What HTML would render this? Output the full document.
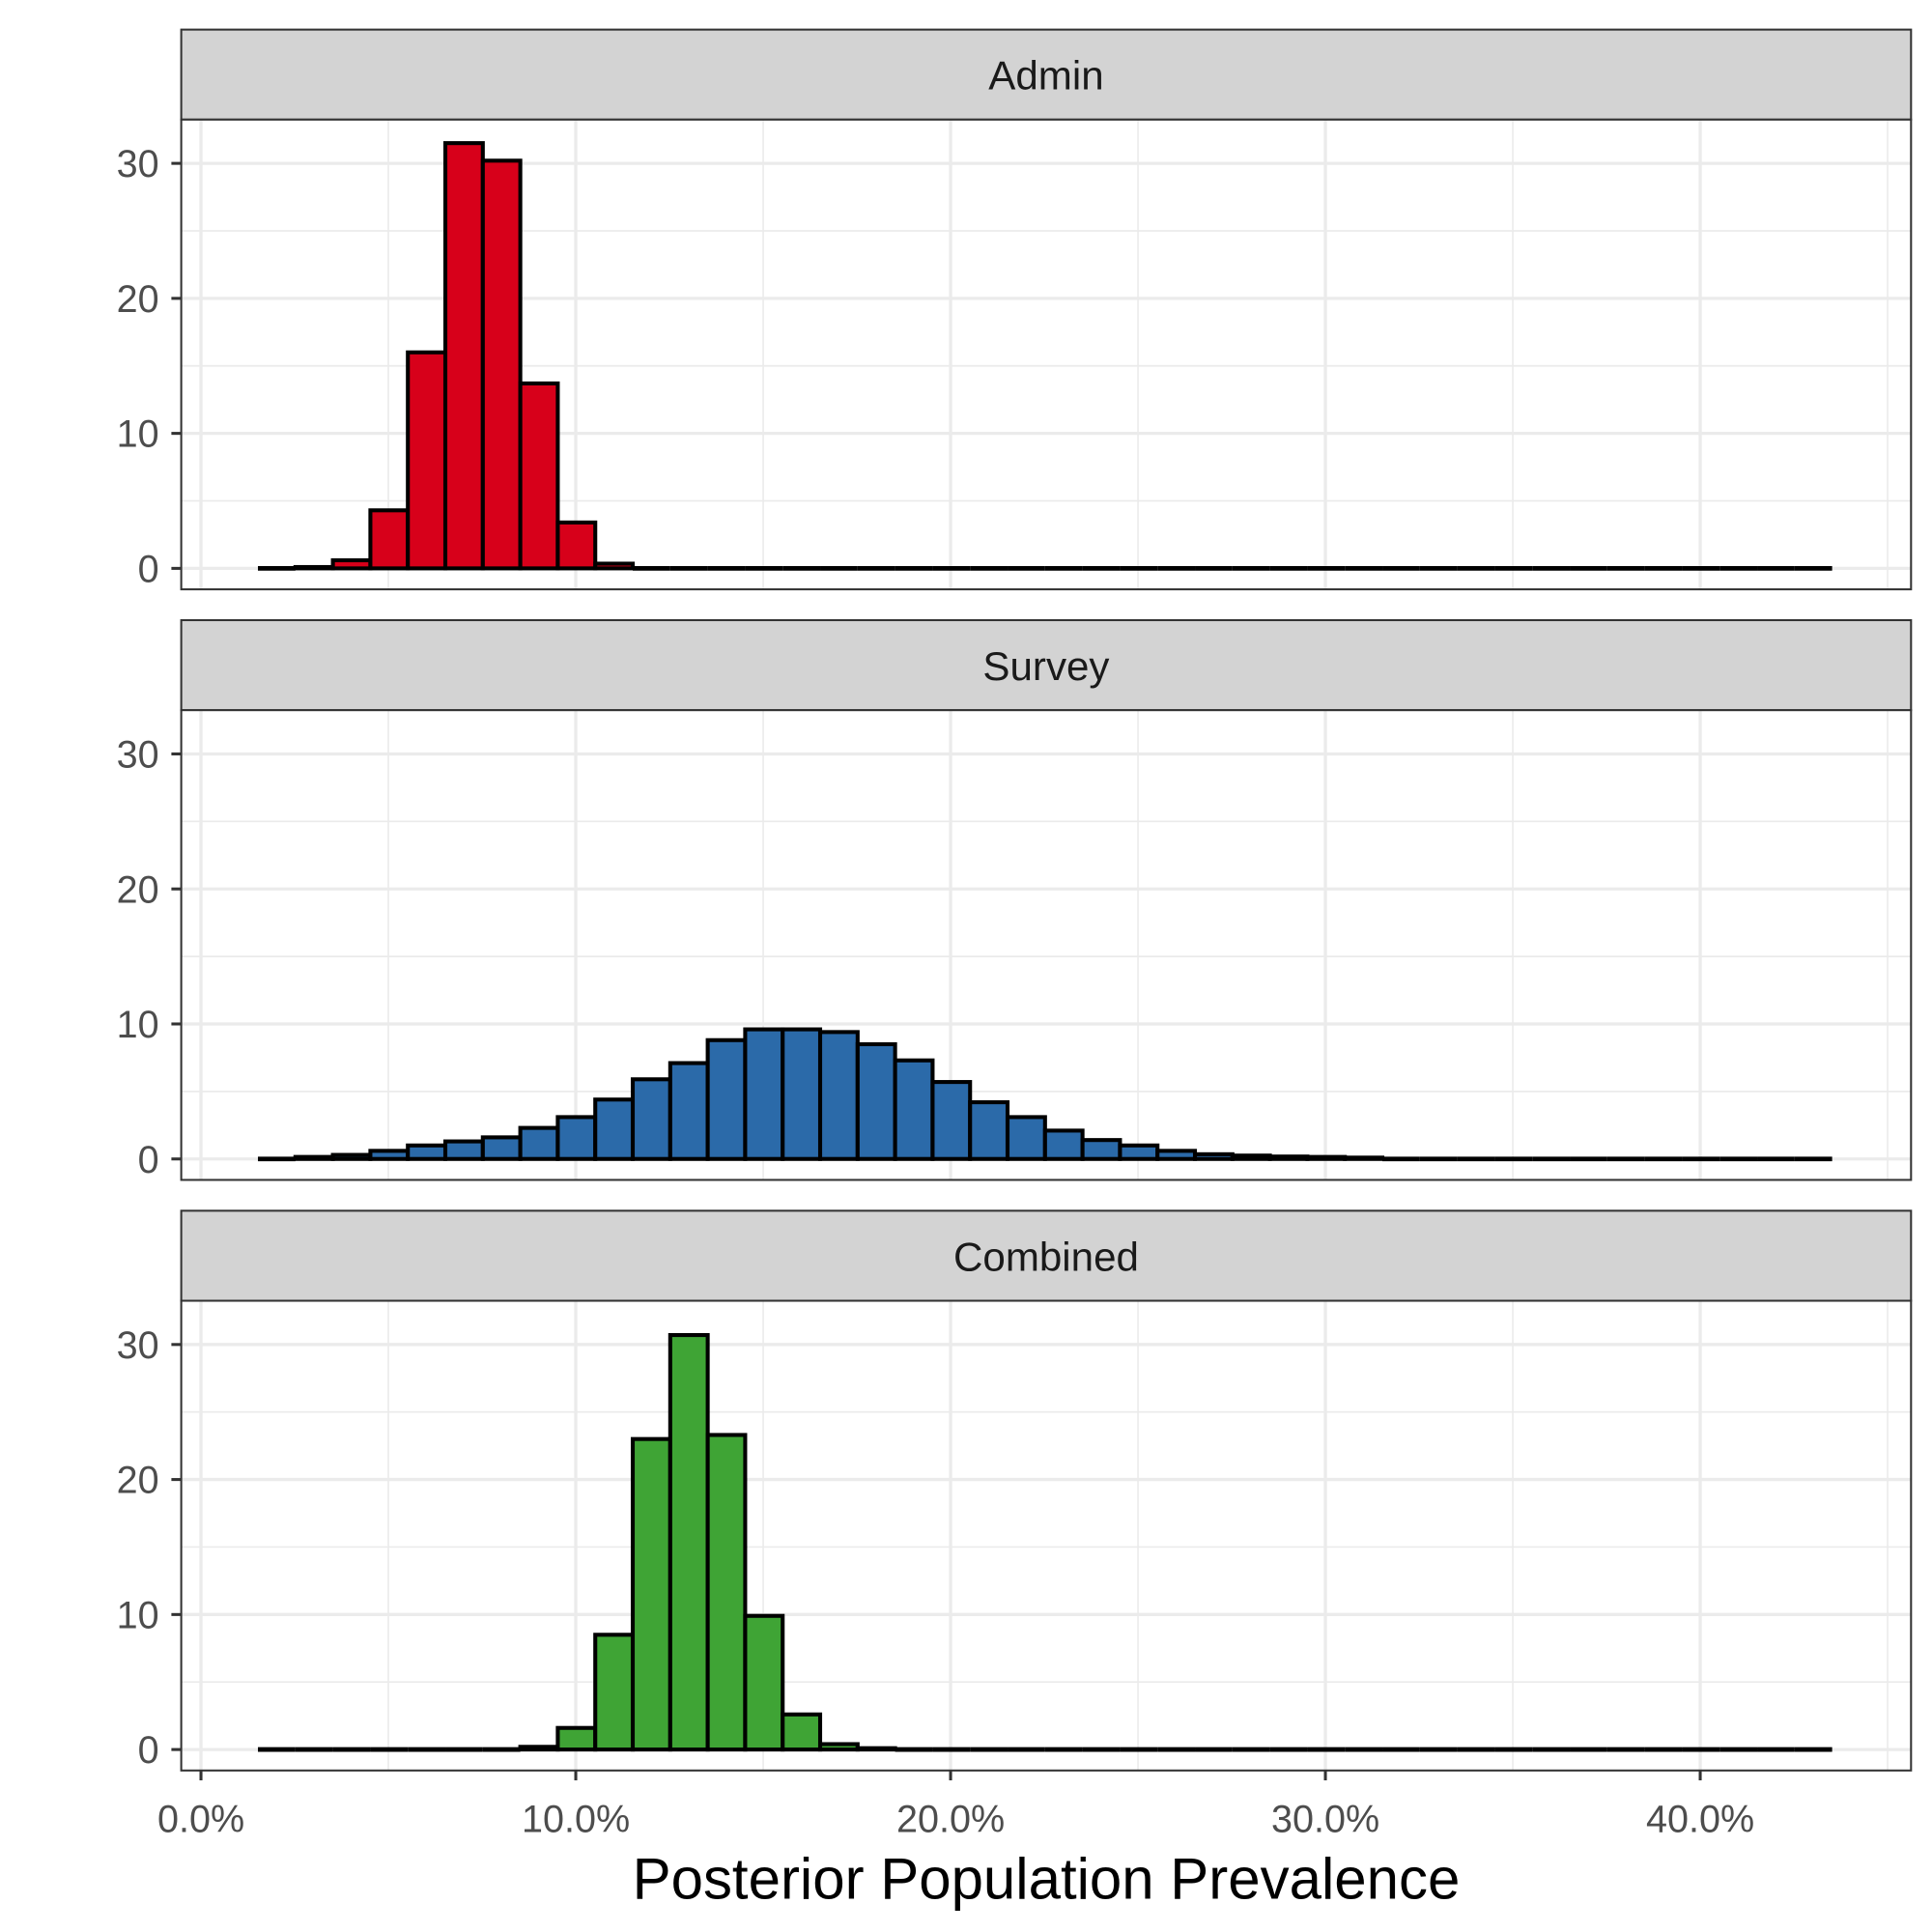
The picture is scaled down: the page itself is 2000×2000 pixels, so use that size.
<!DOCTYPE html>
<html><head><meta charset="utf-8"><style>html,body{margin:0;padding:0;background:#fff}svg{display:block}</style></head>
<body>
<svg id="chart" width="2000" height="2000" viewBox="0 0 1567 1567" xmlns="http://www.w3.org/2000/svg" font-family="Liberation Sans, Arial, sans-serif"></svg>
<script>
const binStart = 1.52;
const binWidth = 1.0;
const panelNames = ["Admin", "Survey", "Combined"];
const panelColors = ["#d7001a", "#2b6aa9", "#3fa435"];
const adminValues = [0.05,0.1,0.6,4.3,16,31.5,30.2,13.7,3.4,0.35,0.05,0,0,0,0,0,0,0,0,0,0,0,0,0,0,0,0,0,0,0,0,0,0,0,0,0,0,0,0,0,0,0];
const surveyValues = [0.05,0.15,0.3,0.6,1.0,1.3,1.6,2.3,3.1,4.4,5.9,7.1,8.8,9.6,9.6,9.4,8.5,7.3,5.7,4.2,3.1,2.1,1.4,1.0,0.6,0.35,0.25,0.18,0.15,0.1,0.08,0.06,0.05,0.04,0.04,0.03,0.03,0.02,0.02,0.02,0.02,0.02];
const combinedValues = [0,0,0,0,0,0,0,0.2,1.6,8.5,23,30.7,23.3,9.9,2.6,0.4,0.1,0,0,0,0,0,0,0,0,0,0,0,0,0,0,0,0,0,0,0,0,0,0,0,0,0];
const xTicks = [0,10,20,30,40];
const xTickLabels = ["0.0%","10.0%","20.0%","30.0%","40.0%"];
const xMinor = [5,15,25,35,45];
const yTicks = [0,10,20,30];
const yMinor = [5,15,25];

const NS = "http://www.w3.org/2000/svg";
const svg = document.getElementById("chart");
const seriesList = [adminValues, surveyValues, combinedValues];
const left = 147, right = 1550;
const stripTops = [24, 503, 982];
const stripH = 73, panelH = 381;
function xScale(v){ return 163 + v * 30.4; }
function mk(tag, attrs, parent){
  const e = document.createElementNS(NS, tag);
  for (const k in attrs) e.setAttribute(k, attrs[k]);
  (parent || svg).appendChild(e);
  return e;
}
panelNames.forEach((name, p) => {
  const st = stripTops[p], pt = st + stripH, pb = pt + panelH;
  const y0 = pb - 17;
  const yScale = v => y0 - v * 10.95;
  const g = mk("g", {});
  
  
  const strip = mk("rect", {x:left, y:st, width:right-left, height:stripH, fill:"#d3d3d3", stroke:"#333", "stroke-width":1.6}, g);
  
  
  const stt = mk("text", {x:(left+right)/2, y:st+stripH/2+12, "text-anchor":"middle", "font-size":33, fill:"#1a1a1a"}, g);
  stt.textContent = name;
  
  
  mk("rect", {x:left, y:pt, width:right-left, height:panelH, fill:"#fff"}, g);
  xMinor.forEach(v => { const x = xScale(v); if (x < right) mk("line", {x1:x, x2:x, y1:pt, y2:pb, stroke:"#ebebeb", "stroke-width":1.3}, g); });
  yMinor.forEach(v => mk("line", {x1:left, x2:right, y1:yScale(v), y2:yScale(v), stroke:"#ebebeb", "stroke-width":1.3}, g));
  xTicks.forEach(v => mk("line", {x1:xScale(v), x2:xScale(v), y1:pt, y2:pb, stroke:"#ebebeb", "stroke-width":2.6}, g));
  yTicks.forEach(v => mk("line", {x1:left, x2:right, y1:yScale(v), y2:yScale(v), stroke:"#ebebeb", "stroke-width":2.6}, g));
  seriesList[p].forEach((v, i) => {
    const x1 = xScale(binStart + i * binWidth), x2 = xScale(binStart + (i+1) * binWidth);
    const h = Math.max(0, y0 - yScale(v));
    if (h < 1) {
      const l = mk("line", {x1:x1, x2:x2, y1:y0, y2:y0, stroke:"#000", "stroke-width":3.8}, g);
      
      
    } else {
      const r = mk("rect", {x:x1, y:yScale(v), width:x2-x1, height:h, fill:panelColors[p], stroke:"#000", "stroke-width":3.2}, g);
      
      
    }
  });
  mk("rect", {x:left, y:pt, width:right-left, height:panelH, fill:"none", stroke:"#333", "stroke-width":1.6}, g);
  yTicks.forEach(v => {
    mk("line", {x1:left-8, x2:left, y1:yScale(v), y2:yScale(v), stroke:"#333", "stroke-width":2.4}, g);
    const t = mk("text", {x:left-18, y:yScale(v)+11, "text-anchor":"end", "font-size":31, fill:"#4d4d4d"}, g);
    t.textContent = v;
    
    
  });
  if (p === 2) {
    xTicks.forEach((v, i) => {
      mk("line", {x1:xScale(v), x2:xScale(v), y1:pb, y2:pb+8, stroke:"#333", "stroke-width":2.4}, g);
      const t = mk("text", {x:xScale(v), y:pb+50, "text-anchor":"middle", "font-size":31, fill:"#4d4d4d"}, g);
      t.textContent = xTickLabels[i];
      
      
    });
  }
});
const title = mk("text", {x:(left+right)/2, y:1540, "text-anchor":"middle", "font-size":47, fill:"#000"});
title.textContent = "Posterior Population Prevalence";


</script>
</body></html>
